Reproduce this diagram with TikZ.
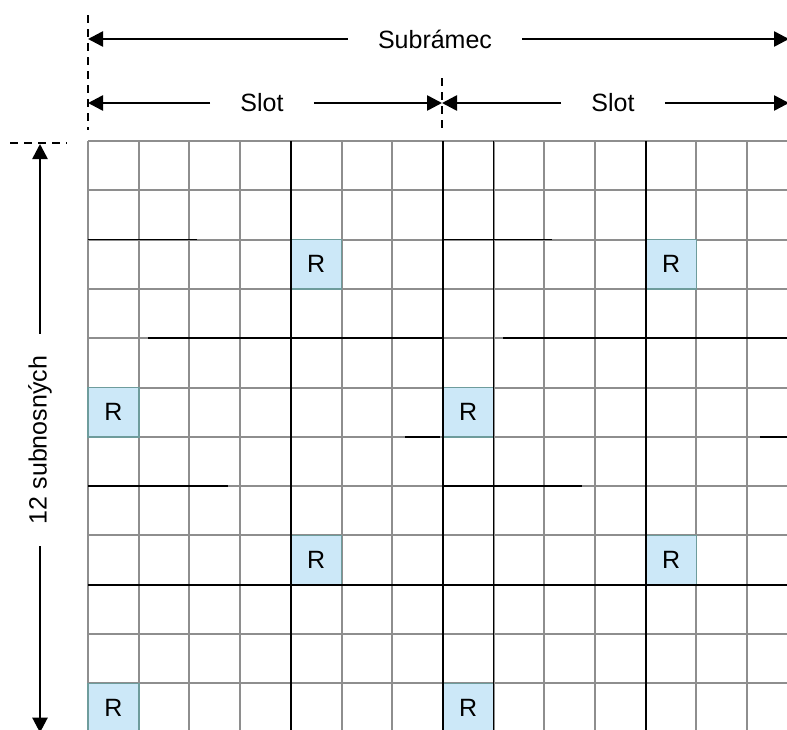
\documentclass[tikz,border=0pt]{standalone}
\usepackage{fontspec}
\setmainfont{Liberation Sans}
\usetikzlibrary{arrows.meta,positioning}
\definecolor{GridGray}{HTML}{8E8E8E}
\definecolor{RefFill}{HTML}{CCE8F8}
\definecolor{RefLine}{HTML}{6E9C9C}
\tikzset{
 gridline/.style={draw=GridGray, line width=1pt},
 darkline/.style={draw=black, line width=0.8pt},
 guide/.style={draw=black, line width=0.6pt, dash pattern=on 4pt off 3pt},
 dimarrow/.style={-{Triangle[length=7.5pt,width=7.5pt]}, line width=1.3pt},
 dimlabel/.style={inner xsep=15pt, inner ysep=2pt, font=\fontsize{12.5}{15}\selectfont},
 refcell/.style={draw=RefLine, fill=RefFill, line width=0.8pt, minimum width=25.35pt,
   minimum height=24.65pt, inner sep=0pt, font=\fontsize{12.5}{15}\selectfont}
}

\begin{document}
\begin{tikzpicture}[x=0.5pt,y=-0.5pt]
\useasboundingbox (0,0) rectangle (787,729);
\clip (0,0) rectangle (787,729);
% resource grid
\foreach \i in {0,...,14}{
  \draw[gridline] ({88+\i*50.7},141) -- ({88+\i*50.7},732.6);
}
\foreach \j in {0,...,12}{
  \draw[gridline] (88,{141+\j*49.3}) -- (800,{141+\j*49.3});
}
% reference symbols
\foreach \c/\r [count=\n] in {4/2,11/2,0/5,7/5,4/8,11/8,0/11,7/11}{
  \node[refcell] (r\n) at ({88+(\c+0.5)*50.7},{141+(\r+0.5)*49.3}) {R};
}
% darker lines
\foreach \i in {4,7,8,11}{
  \draw[darkline] ({88+\i*50.7},141) -- ({88+\i*50.7},732.6);
}
\draw[darkline] (88,584.7) -- (800,584.7);
\draw[darkline] (88,239.6) -- (197,239.6) (442,239.6) -- (552,239.6);
\draw[darkline] (148,338.2) -- (442,338.2) (503,338.2) -- (800,338.2);
\draw[darkline] (405,436.8) -- (440,436.8) (760,436.8) -- (800,436.8);
\draw[darkline] (88,486.1) -- (228,486.1) (442,486.1) -- (582,486.1);
% guides
\draw[guide] (88,15) -- (88,130);
\draw[guide] (442,78) -- (442,133);
\draw[guide] (10,143) -- (67,143);
% dimensions
\coordinate (subL) at (88,39);
\coordinate (subR) at (789,39);
\node[dimlabel] (sub) at (435,39) {Subrámec};
\draw[dimarrow] (sub) -- (subL);
\draw[dimarrow] (sub) -- (subR);
\coordinate (slotAL) at (88,103);
\coordinate (slotAR) at (442,103);
\node[dimlabel] (slotA) at (262,103) {Slot};
\draw[dimarrow] (slotA) -- (slotAL);
\draw[dimarrow] (slotA) -- (slotAR);
\coordinate (slotBL) at (442,103);
\coordinate (slotBR) at (789,103);
\node[dimlabel] (slotB) at (613,103) {Slot};
\draw[dimarrow] (slotB) -- (slotBL);
\draw[dimarrow] (slotB) -- (slotBR);
\coordinate (subcT) at (40,144);
\coordinate (subcB) at (40,732.6);
\node[dimlabel, rotate=90, inner xsep=11pt] (subc) at (40,440) {12 subnosných};
\draw[dimarrow] (subc) -- (subcT);
\draw[dimarrow] (subc) -- (subcB);
\end{tikzpicture}
\end{document}
